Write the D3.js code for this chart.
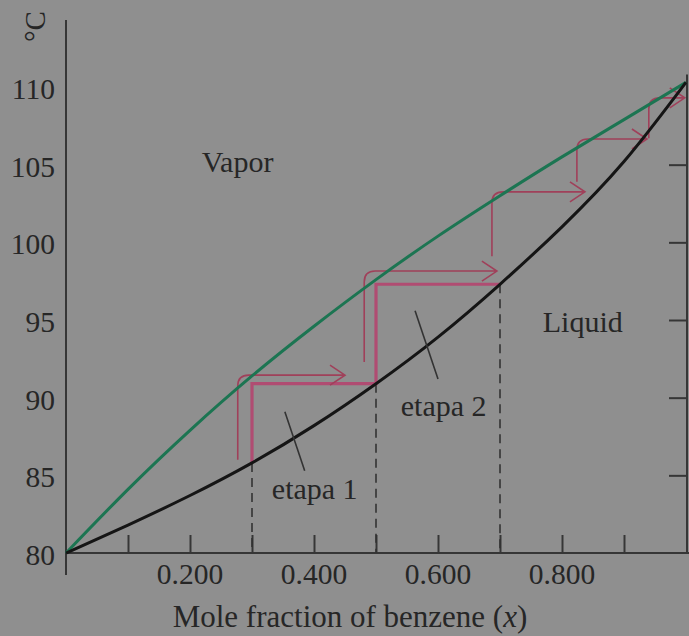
<!DOCTYPE html>
<html>
<head>
<meta charset="utf-8">
<script src="https://cdn.jsdelivr.net/npm/d3@7"></script>
<style>
  html, body { margin: 0; padding: 0; background: #8f8f8f; }
  svg { display: block; }
  text { font-family: "Liberation Serif", "DejaVu Serif", serif; fill: #262626; }
</style>
</head>
<body>
<div id="graphic"></div>
<script>
// mole fraction grid
const molFrac = [0, 0.1, 0.2, 0.3, 0.4, 0.5, 0.6, 0.7, 0.8, 0.9, 1.0];
// liquid (bubble) and vapor (dew) temperatures
const liquidT = [80, 81.8, 83.7, 85.8, 88.2, 90.9, 93.9, 97.3, 101.0, 105.2, 110.3];
const vaporT  = [80, 84.1, 87.9, 91.4, 94.6, 97.6, 100.4, 103.0, 105.5, 107.9, 110.3];

const xTicks = [0.1, 0.2, 0.3, 0.4, 0.5, 0.6, 0.7, 0.8, 0.9];
const xLabels = [0.2, 0.4, 0.6, 0.8];
const yLabels = [80, 85, 90, 95, 100, 105, 110];
const rightTicks = [85, 90, 95, 100, 105];

// the two drawn steps (etapa 1, etapa 2)
const stepX = [0.3, 0.5, 0.7];

// thin arrows: start x, bottom T, top T, end x
const arrows = [
  { x: 0.277, t0: 86.0, t1: 91.45, x1: 0.450 },
  { x: 0.481, t0: 92.3, t1: 98.15, x1: 0.695 },
  { x: 0.687, t0: 99.1, t1: 103.25, x1: 0.837 },
  { x: 0.824, t0: 103.9, t1: 106.65, x1: 0.937 },
  { x: 0.940, t0: 106.7, t1: 109.3, x1: 0.998 }
];

// leader lines for the step labels
const leaders = [
  { x0: 0.353, t0: 89.1, x1: 0.385, t1: 85.3 },
  { x0: 0.563, t0: 95.6, x1: 0.600, t1: 91.2 }
];
const labels = [
  { text: "Vapor", x: 0.219, t: 104.5 },
  { text: "Liquid", x: 0.769, t: 94.25 },
  { text: "etapa 1", x: 0.332, t: 83.5 },
  { text: "etapa 2", x: 0.540, t: 88.85 }
];

const width = 689, height = 636;

const x = d3.scaleLinear().domain([0, 1]).range([66, 686]);
const y = d3.scaleLinear().domain([80, 110]).range([553, 87]);

const svg = d3.select("#graphic")
  .append("svg")
  .attr("width", width)
  .attr("height", height);

svg.append("rect")
  .attr("width", width)
  .attr("height", height)
  .attr("fill", "#8f8f8f");

const axisColor = "#363636";

// left axis line (runs a little past both ends)
svg.append("line")
  .attr("x1", x(0)).attr("x2", x(0))
  .attr("y1", 20).attr("y2", y(80) + 22)
  .attr("stroke", axisColor).attr("stroke-width", 2);

// bottom axis with ticks pointing up
const xAxis = d3.axisBottom(x)
  .tickValues(xTicks)
  .tickSize(-18)
  .tickFormat("");
const gx = svg.append("g")
  .attr("transform", `translate(0, ${y(80)})`)
  .call(xAxis);
gx.select(".domain").remove();
gx.selectAll(".tick line").attr("stroke", axisColor).attr("stroke-width", 2);
svg.append("line")
  .attr("x1", x(0)).attr("x2", width)
  .attr("y1", y(80)).attr("y2", y(80))
  .attr("stroke", axisColor).attr("stroke-width", 2);

// right axis with ticks pointing in
const yRight = d3.axisLeft(y)
  .tickValues(rightTicks)
  .tickSize(18)
  .tickFormat("");
const gr = svg.append("g")
  .attr("transform", `translate(${x(1) + 1}, 0)`)
  .call(yRight);
gr.select(".domain").remove();
gr.selectAll(".tick line").attr("stroke", axisColor).attr("stroke-width", 2);
svg.append("line")
  .attr("x1", x(1) + 1).attr("x2", x(1) + 1)
  .attr("y1", y(110.8)).attr("y2", y(80))
  .attr("stroke", axisColor).attr("stroke-width", 2);

// tick labels
svg.selectAll(".ylab")
  .data(yLabels)
  .enter().append("text")
  .attr("class", "ylab")
  .attr("x", 55)
  .attr("y", d => y(d) + 12)
  .attr("text-anchor", "end")
  .attr("font-size", 29.5)
  .text(d => d);

svg.selectAll(".xlab")
  .data(xLabels)
  .enter().append("text")
  .attr("class", "xlab")
  .attr("x", d => x(d))
  .attr("y", 584)
  .attr("text-anchor", "middle")
  .attr("font-size", 29.5)
  .text(d => d3.format(".3f")(d));

// axis titles
const xTitle = svg.append("text")
  .attr("x", 350)
  .attr("y", 627)
  .attr("text-anchor", "middle")
  .attr("font-size", 31);
xTitle.append("tspan").text("Mole fraction of benzene (");
xTitle.append("tspan").attr("font-style", "italic").text("x");
xTitle.append("tspan").text(")");

svg.append("text")
  .attr("transform", "translate(45, 42) rotate(-90)")
  .attr("font-size", 29)
  .text("°C");

// curves
const liquid = molFrac.map((m, i) => [m, liquidT[i]]);
const vapor = molFrac.map((m, i) => [m, vaporT[i]]);
const line = d3.line()
  .x(d => x(d[0]))
  .y(d => y(d[1]))
  .curve(d3.curveNatural);

const liqAt = d3.scaleLinear().domain(molFrac).range(liquidT);

// dashed drops to the axis
svg.selectAll(".drop")
  .data(stepX)
  .enter().append("line")
  .attr("class", "drop")
  .attr("x1", d => x(d)).attr("x2", d => x(d))
  .attr("y1", d => y(liqAt(d))).attr("y2", y(80))
  .attr("stroke", "#333").attr("stroke-width", 1.6)
  .attr("stroke-dasharray", "9,6");

// thick step path
const steps = [];
stepX.forEach((s, i) => {
  steps.push([s, liqAt(s)]);
  if (i < stepX.length - 1) steps.push([s, liqAt(stepX[i + 1])]);
});
svg.append("path")
  .datum(steps)
  .attr("d", d3.line().x(d => x(d[0])).y(d => y(d[1])))
  .attr("fill", "none")
  .attr("stroke", "#b04c72")
  .attr("stroke-width", 3.2);

// thin arrows
svg.selectAll(".arrow")
  .data(arrows)
  .enter().append("path")
  .attr("class", "arrow")
  .attr("d", d => {
    const x0 = x(d.x), yb = y(d.t0), yt = y(d.t1), xe = x(d.x1);
    const r = Math.min(11, (yb - yt) / 2);
    return `M${x0},${yb} V${yt + r} Q${x0},${yt} ${x0 + r},${yt} H${xe}` +
      ` M${xe - 15},${yt - 10} L${xe},${yt} L${xe - 15},${yt + 10}`;
  })
  .attr("fill", "none")
  .attr("stroke", "#a0405a")
  .attr("stroke-width", 1.6);

svg.append("path")
  .datum(vapor)
  .attr("d", line)
  .attr("fill", "none")
  .attr("stroke", "#1c7552")
  .attr("stroke-width", 3);

svg.append("path")
  .datum(liquid)
  .attr("d", line)
  .attr("fill", "none")
  .attr("stroke", "#151515")
  .attr("stroke-width", 3);

// leader lines
svg.selectAll(".leader")
  .data(leaders)
  .enter().append("line")
  .attr("x1", d => x(d.x0)).attr("y1", d => y(d.t0))
  .attr("x2", d => x(d.x1)).attr("y2", d => y(d.t1))
  .attr("stroke", "#333").attr("stroke-width", 1.6);

svg.selectAll(".lab")
  .data(labels)
  .enter().append("text")
  .attr("class", "lab")
  .attr("x", d => x(d.x))
  .attr("y", d => y(d.t))
  .attr("font-size", 30)
  .text(d => d.text);
</script>
</body>
</html>
